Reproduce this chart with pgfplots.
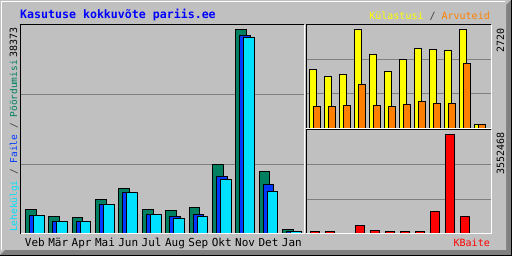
\documentclass[border=0pt]{standalone}
\usepackage{fontspec}
\setmainfont{DejaVu Sans Mono}
\usepackage{pgfplots}
\pgfplotsset{compat=1.18}
\definecolor{bg}{RGB}{192,192,192}
\definecolor{dkgray}{RGB}{128,128,128}
\definecolor{gridgray}{RGB}{128,128,128}
\definecolor{cgreen}{RGB}{0,128,96}
\definecolor{cblue}{RGB}{0,56,255}
\definecolor{ccyan}{RGB}{0,224,255}
\definecolor{cyellow}{RGB}{255,255,0}
\definecolor{corange}{RGB}{255,128,0}
\definecolor{cred}{RGB}{255,0,0}
\definecolor{tblue}{RGB}{0,0,255}
\definecolor{slash}{RGB}{64,64,64}
\pgfplotsset{awstyle/.style={scale only axis, anchor=south west,
  axis line style={draw=none}, ymin=0, major tick length=0pt,
  ymajorgrids, grid style={color=gridgray, line width=1pt},
  scaled y ticks=false, scaled x ticks=false,
  yticklabel=\empty}}
\begin{document}
\begin{tikzpicture}[x=1pt,y=1pt]
% outer frame
\fill[black] (0,0) rectangle (512,256);
\fill[dkgray] (0,1) rectangle (511,256);
\fill[bg] (0,256) -- (511,256) -- (506,251) -- (506,6) -- (5,6) -- (0,1) -- cycle;
\draw[white, line width=1pt] (1.5,6) -- (1.5,254.5) -- (505,254.5);

% main chart
\begin{axis}[awstyle, at={(20pt,22pt)}, width=284.5pt, height=209pt,
  xmin=-0.635, xmax=11.54, ymax=39185, ytick={13062,26123},
  xtick={0,...,11},
  xticklabels={Veb,Mär,Apr,Mai,Jun,Jul,Aug,Sep,Okt,Nov,Det,Jan},
  xticklabel style={font=\fontsize{11}{11}\selectfont, anchor=base, yshift=-13pt, inner sep=0pt}]
\addplot[ybar, bar width=10.7pt, bar shift=-4pt, fill=cgreen, draw=black, line width=1pt]
  coordinates {(0,4625) (1,3312) (2,3125) (3,6500) (4,8562) (5,4625) (6,4437) (7,5000) (8,13062) (9,38373) (10,11749) (11,875)};
\addplot[ybar, bar width=10.7pt, bar shift=0pt, fill=cblue, draw=black, line width=1pt]
  coordinates {(0,3500) (1,2312) (2,2375) (3,5562) (4,7812) (5,3687) (6,3312) (7,3687) (8,10812) (9,37249) (10,9312) (11,500)};
\addplot[ybar, bar width=10.7pt, bar shift=4pt, fill=ccyan, draw=black, line width=1pt]
  coordinates {(0,3500) (1,2312) (2,2375) (3,5562) (4,7812) (5,3687) (6,2937) (7,3312) (8,10250) (9,36873) (10,8000) (11,500)};
\end{axis}

% visits / hosts
\begin{axis}[awstyle, at={(306pt,127.5pt)}, width=185pt, height=103.5pt,
  xmin=-0.6, xmax=11.733, ymax=2838.6, ytick={946.2,1892.4},
  xtick=\empty]
\addplot[ybar, bar width=6.3pt, bar shift=-2pt, fill=cyellow, draw=black, line width=1pt]
  coordinates {(0,1625) (1,1433) (2,1488) (3,2720) (4,2035) (5,1570) (6,1899) (7,2200) (8,2172) (9,2145) (10,2720) (11,119)};
\addplot[ybar, bar width=6.3pt, bar shift=2pt, fill=corange, draw=black, line width=1pt]
  coordinates {(0,612) (1,612) (2,639) (3,1214) (4,639) (5,612) (6,666) (7,749) (8,694) (9,694) (10,1789) (11,119)};
\end{axis}

% bandwidth
\begin{axis}[awstyle, at={(306pt,22pt)}, width=185pt, height=104pt,
  xmin=-0.6, xmax=11.733, ymax=3708490, ytick={1236163,2472327},
  xtick=\empty]
\addplot[ybar, bar width=9pt, bar shift=0pt, fill=cred, draw=black, line width=1pt]
  coordinates {(0,96013) (1,96013) (2,30000) (3,288038) (4,132017) (5,96013) (6,96013) (7,96013) (8,816109) (9,3552468) (10,612082) (11,30000)};
\end{axis}

% plot frames
\draw[black, line width=1pt] (20.5,22) -- (20.5,231) -- (304,231);
\draw[white, line width=1pt] (20.5,22) -- (304,22) -- (304,231);
\draw[black, line width=1pt] (306,127.5) -- (306,231) -- (491,231);
\draw[white, line width=1pt] (306,127.5) -- (491,127.5) -- (491,231);
\draw[black, line width=1pt] (306,22) -- (306,126) -- (491,126);
\draw[white, line width=1pt] (306,22) -- (491,22) -- (491,126);

% texts
\node[anchor=base west, inner sep=0pt, text=tblue, font=\fontsize{11.6}{12}\selectfont\bfseries] at (20,237) {Kasutuse kokkuvõte pariis.ee};
\node[anchor=base east, inner sep=0pt, font=\fontsize{10}{10}\selectfont] at (490,236)
  {\textcolor{cyellow}{Külastusi} \textcolor{slash}{/} \textcolor{corange}{Arvuteid}};
\node[anchor=base east, inner sep=0pt, text=cred, font=\fontsize{10}{10}\selectfont] at (490,9) {KBaite};
\node[rotate=90, anchor=base east, inner sep=0pt, font=\fontsize{10}{10}\selectfont] at (17,229) {38373};
\node[rotate=90, anchor=base west, inner sep=0pt, font=\fontsize{9.5}{10}\selectfont] at (17,24)
  {\textcolor{ccyan}{Lehekülgi} \textcolor{slash}{/} \textcolor{cblue}{Faile} \textcolor{slash}{/} \textcolor{cgreen}{Pöördumisi}};
\node[rotate=90, anchor=base east, inner sep=0pt, font=\fontsize{10}{10}\selectfont] at (504,228) {2720};
\node[rotate=90, anchor=base east, inner sep=0pt, font=\fontsize{10}{10}\selectfont] at (504,124) {3552468};
\end{tikzpicture}
\end{document}
